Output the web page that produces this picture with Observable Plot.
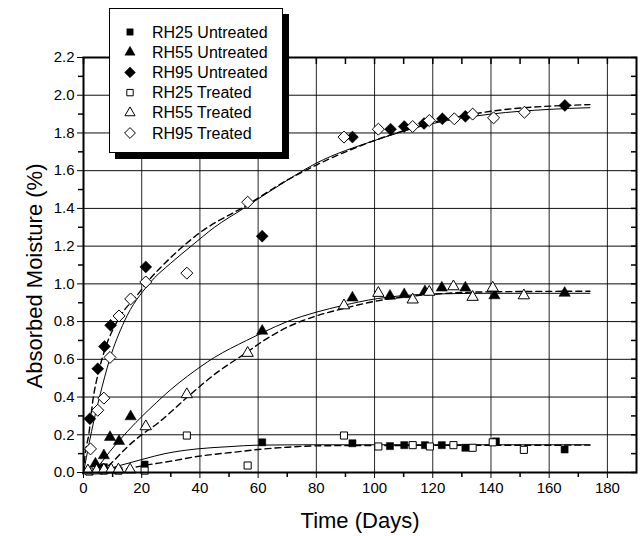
<!DOCTYPE html>
<html>
<head>
<meta charset="utf-8">
<script src="https://cdn.jsdelivr.net/npm/d3@7"></script>
<script src="https://cdn.jsdelivr.net/npm/@observablehq/plot@0.6"></script>
<style>
  html, body { margin: 0; padding: 0; background: #fff; }
  #wrap { position: relative; width: 640px; height: 536px; font-family: "Liberation Sans", Arial, sans-serif; }
  #legend { position: absolute; left: 109px; top: 8px; }
</style>
</head>
<body>
<div id="wrap"><div id="chart"></div><div id="legend"></div></div>
<script>
// ---- Data ----
const rh25U_day = [5, 7, 21, 61.4, 92.4, 105.3, 110.2, 117.3, 123.1, 131.2, 141.7, 165.3];
const rh25U_val = [0.02, 0.028, 0.042, 0.16, 0.155, 0.14, 0.145, 0.145, 0.145, 0.131, 0.165, 0.122];

const rh55U_day = [4.1, 7, 9.1, 12.2, 16.2, 61.4, 92.4, 105.3, 110.2, 117.3, 123.1, 131.2, 141.2, 165.3];
const rh55U_val = [0.046, 0.09, 0.187, 0.166, 0.297, 0.75, 0.926, 0.936, 0.944, 0.96, 0.979, 0.979, 0.938, 0.951];

const rh95U_day = [2.2, 4.9, 7.2, 9.3, 21.4, 61.4, 92.4, 105.5, 110.2, 117, 123.3, 131.2, 165.4];
const rh95U_val = [0.285, 0.55, 0.668, 0.78, 1.09, 1.253, 1.778, 1.82, 1.834, 1.85, 1.875, 1.888, 1.946];

const rh25T_day = [2, 7, 12, 21, 35.5, 56.4, 89.5, 101.3, 113.1, 119, 127.1, 133.7, 140.6, 151.3];
const rh25T_val = [0.005, 0.01, 0.01, 0.01, 0.196, 0.037, 0.196, 0.138, 0.145, 0.138, 0.145, 0.131, 0.16, 0.12];

const rh55T_day = [1.5, 4.5, 7, 9.5, 12, 16, 21.4, 35.5, 56.4, 89.5, 101.3, 113.1, 118.8, 127.1, 133.7, 140.6, 151.3];
const rh55T_val = [0.01, 0.01, 0.015, 0.015, 0.015, 0.015, 0.244, 0.414, 0.633, 0.885, 0.951, 0.916, 0.957, 0.986, 0.93, 0.979, 0.938];

const rh95T_day = [2.4, 4.9, 7, 9.1, 12.2, 16.2, 21.4, 35.5, 56.4, 89.5, 101.3, 113.1, 118.8, 127.4, 133.7, 140.9, 151.5];
const rh95T_val = [0.125, 0.33, 0.394, 0.61, 0.83, 0.92, 1.01, 1.057, 1.433, 1.778, 1.82, 1.834, 1.866, 1.875, 1.90, 1.88, 1.91];

// fitted curves
const fit95S_day = [0, 1, 2, 3.5, 5.5, 9, 14, 22.5, 30, 37, 45, 55, 65, 80, 100, 120, 140, 160, 174];
const fit95S_val = [0, 0.08, 0.16, 0.27, 0.4, 0.6, 0.8, 1.0, 1.11, 1.2, 1.3, 1.4, 1.5, 1.64, 1.76, 1.85, 1.9, 1.925, 1.934];
const fit95D_day = [0, 0.6, 1.8, 3.2, 5.3, 7.5, 10.5, 14, 17.4, 22.5, 30, 39, 56.4, 70, 80, 100, 120, 140, 160, 174];
const fit95D_val = [0, 0.1, 0.2, 0.38, 0.54, 0.66, 0.77, 0.86, 0.92, 1.02, 1.14, 1.26, 1.42, 1.55, 1.63, 1.76, 1.855, 1.915, 1.942, 1.95];

const fit55S_day = [3, 6, 9, 12.3, 18, 25, 30, 35.7, 45, 56, 62, 70, 80, 89, 101, 110, 120, 140, 174];
const fit55S_val = [0, 0.05, 0.11, 0.17, 0.265, 0.37, 0.44, 0.51, 0.61, 0.70, 0.745, 0.8, 0.85, 0.885, 0.922, 0.938, 0.946, 0.95, 0.95];
const fit55D_day = [6, 10.5, 15, 20, 25.4, 35.7, 45, 56.4, 62, 70, 80, 89, 101, 110, 120, 140, 174];
const fit55D_val = [0, 0.064, 0.135, 0.2, 0.26, 0.40, 0.52, 0.64, 0.70, 0.77, 0.83, 0.868, 0.91, 0.93, 0.945, 0.958, 0.961];

const fit25S_day = [5, 8, 12, 16, 20.8, 28, 39, 50, 60, 80, 174];
const fit25S_val = [0, 0.015, 0.035, 0.052, 0.072, 0.1, 0.125, 0.137, 0.145, 0.147, 0.147];
const fit25D_day = [8, 10.5, 15, 20.8, 30, 39, 52, 60, 70, 82, 174];
const fit25D_val = [0, 0.01, 0.02, 0.037, 0.06, 0.085, 0.108, 0.122, 0.134, 0.142, 0.145];

// ticks
const xMajor = [0, 20, 40, 60, 80, 100, 120, 140, 160, 180];
const xMinor = [10, 30, 50, 70, 90, 110, 130, 150, 170];
const yMajor = [0, 0.2, 0.4, 0.6, 0.8, 1.0, 1.2, 1.4, 1.6, 1.8, 2.0, 2.2];
const yMinor = [0.1, 0.3, 0.5, 0.7, 0.9, 1.1, 1.3, 1.5, 1.7, 1.9, 2.1];

const seriesNames = ["RH25 Untreated", "RH55 Untreated", "RH95 Untreated", "RH25 Treated", "RH55 Treated", "RH95 Treated"];
const seriesSymbols = ["square", "triangle", "diamond2", "square", "triangle", "diamond2"];
const seriesFilled = [true, true, true, false, false, false];
const seriesR = [4, 4.2, 5.4, 4, 4.2, 5.4];

// ---- Build tables ----
const zip = (days, vals) => days.map((d, i) => ({day: d, val: vals[i]}));
const seriesData = [
  zip(rh25U_day, rh25U_val), zip(rh55U_day, rh55U_val), zip(rh95U_day, rh95U_val),
  zip(rh25T_day, rh25T_val), zip(rh55T_day, rh55T_val), zip(rh95T_day, rh95T_val)
];
const solidFits = [zip(fit25S_day, fit25S_val), zip(fit55S_day, fit55S_val), zip(fit95S_day, fit95S_val)];
const dashedFits = [zip(fit25D_day, fit25D_val), zip(fit55D_day, fit55D_val), zip(fit95D_day, fit95D_val)];

const FONT = '"Liberation Sans", Arial, sans-serif';
const marks = [
  Plot.gridX(xMajor, {stroke: "#000", strokeOpacity: 0.85, strokeWidth: 1}),
  Plot.gridY(yMajor, {stroke: "#000", strokeOpacity: 0.95, strokeWidth: 1}),
  ...solidFits.map(f => Plot.line(f, {x: "day", y: "val", stroke: "#000", strokeWidth: 1, curve: "monotone-x"})),
  ...dashedFits.map(f => Plot.line(f, {x: "day", y: "val", stroke: "#000", strokeWidth: 1.4, strokeDasharray: "6,4", curve: "monotone-x"})),
  ...seriesData.map((s, i) => Plot.dot(s, {
    x: "day", y: "val", symbol: () => seriesSymbols[i], r: seriesR[i],
    fill: seriesFilled[i] ? "#000" : "#fff", stroke: "#000", strokeWidth: seriesFilled[i] ? 0.5 : 1
  })),
  Plot.axisX(xMajor, {anchor: "bottom", tickSize: 6, tickPadding: 4, fontSize: 15, label: "Time (Days)", labelAnchor: "center", labelOffset: 55, labelArrow: "none"}),
  Plot.axisX(xMinor, {anchor: "bottom", tickSize: 5, strokeWidth: 1.5, tickFormat: () => "", label: null}),
  Plot.axisX(xMajor.concat(xMinor), {anchor: "top", tickSize: -6, strokeWidth: 1.5, tickFormat: () => "", label: null}),
  Plot.axisY(yMajor, {anchor: "left", tickSize: 6, tickPadding: 3, fontSize: 15, tickFormat: d3.format(".1f"), label: "Absorbed Moisture (%)", labelAnchor: "center", labelOffset: 57, labelArrow: "none"}),
  Plot.axisY(yMinor, {anchor: "left", tickSize: 5, strokeWidth: 1.5, tickFormat: () => "", label: null}),
  Plot.axisY(yMajor.concat(yMinor), {anchor: "right", tickSize: -6, strokeWidth: 1.5, tickFormat: () => "", label: null}),
  Plot.frame({stroke: "#000", strokeWidth: 2})
];

const chart = Plot.plot({
  width: 640,
  height: 536,
  marginLeft: 83,
  marginRight: 4,
  marginTop: 57,
  marginBottom: 64,
  style: {fontFamily: FONT, color: "#000", background: "#fff", overflow: "visible"},
  x: {domain: [0, 190]},
  y: {domain: [0, 2.2]},
  marks
});
document.getElementById("chart").appendChild(chart);
chart.querySelectorAll('[aria-label$="axis label"]').forEach(el => {
  el.setAttribute("font-size", 22);
  el.style.fontSize = "22px";
  el.querySelectorAll("text").forEach(t => { t.setAttribute("font-size", 22); t.style.fontSize = "22px"; });
  if (el.getAttribute("aria-label").startsWith("y")) {
    const tr = el.getAttribute("transform") || "";
    el.setAttribute("transform", "translate(0,11) " + tr);
  }
});

// ---- Legend (overlay) ----
const lw = 180, lh = 152;
const leg = d3.select("#legend").append("svg")
  .attr("width", lw).attr("height", lh)
  .style("font-family", FONT).style("overflow", "visible");
leg.append("rect").attr("x", 6).attr("y", 6).attr("width", 174).attr("height", 145).attr("fill", "#000");
leg.append("rect").attr("x", 0.5).attr("y", 0.5).attr("width", 173).attr("height", 144).attr("fill", "#fff").attr("stroke", "#000");
const symMap = {square: d3.symbolSquare, triangle: d3.symbolTriangle, diamond2: d3.symbolDiamond2};
seriesNames.forEach((name, i) => {
  const cy = 24 + i * 20.2;
  const rr = seriesR[i] * 0.9;
  leg.append("path")
    .attr("transform", `translate(21,${cy})`)
    .attr("d", d3.symbol(symMap[seriesSymbols[i]], Math.PI * rr * rr)())
    .attr("fill", seriesFilled[i] ? "#000" : "#fff")
    .attr("stroke", "#000").attr("stroke-width", seriesFilled[i] ? 0.5 : 1);
  leg.append("text").attr("x", 43).attr("y", cy).attr("dy", "0.35em")
    .attr("font-size", 16).attr("fill", "#000").text(name);
});
</script>
</body>
</html>
